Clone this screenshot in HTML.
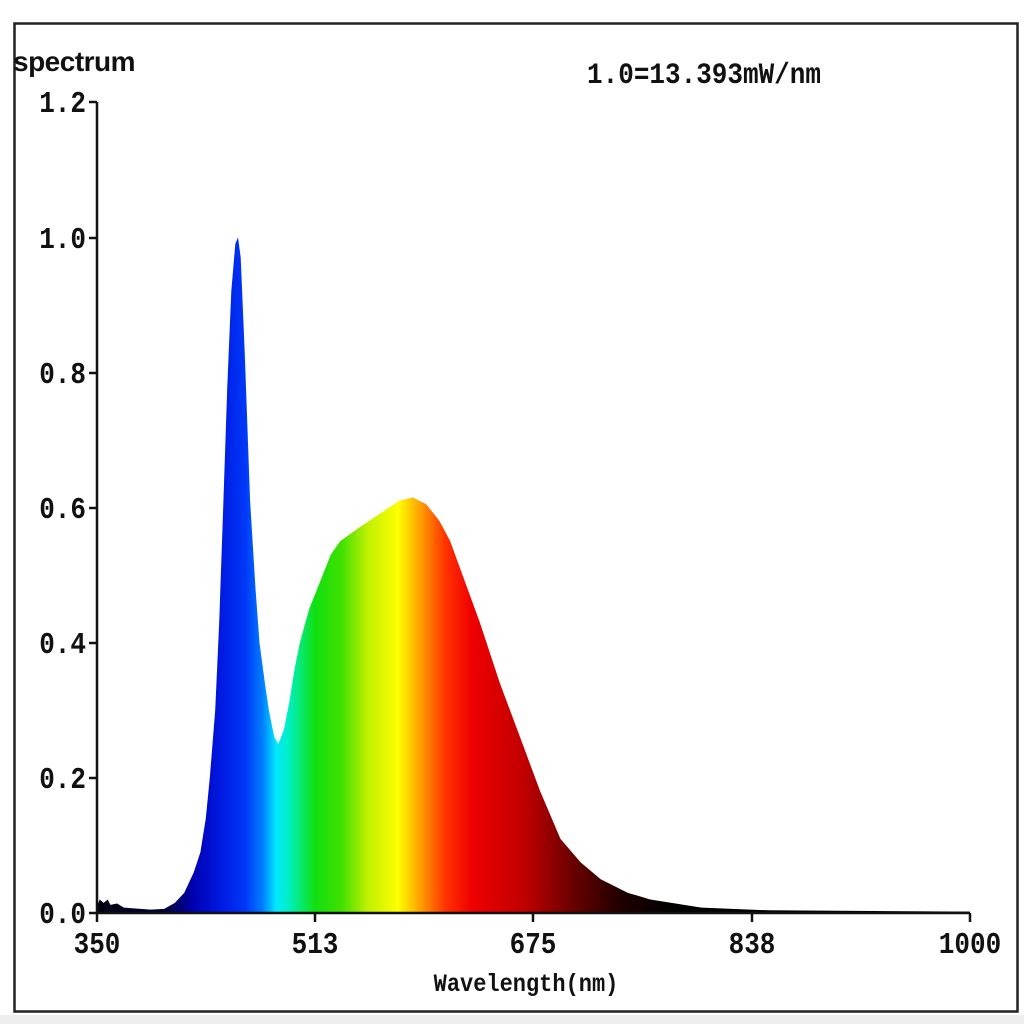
<!DOCTYPE html>
<html><head><meta charset="utf-8"><style>
html,body{margin:0;padding:0;background:#fff;width:1024px;height:1024px;overflow:hidden}
svg text{font-family:"Liberation Mono",monospace;font-weight:bold;fill:#111}
</style></head><body>
<svg width="1024" height="1024" xmlns="http://www.w3.org/2000/svg">
<defs>
<linearGradient id="g" gradientUnits="userSpaceOnUse" x1="97" y1="0" x2="970" y2="0">
<stop offset="0" stop-color="#000010"/>
<stop offset="0.08" stop-color="#000040"/>
<stop offset="0.11" stop-color="#0000b0"/>
<stop offset="0.14" stop-color="#0018e0"/>
<stop offset="0.17" stop-color="#0038f8"/>
<stop offset="0.19" stop-color="#0080ff"/>
<stop offset="0.205" stop-color="#00e8ff"/>
<stop offset="0.22" stop-color="#00f0c0"/>
<stop offset="0.25" stop-color="#10e010"/>
<stop offset="0.28" stop-color="#40e000"/>
<stop offset="0.31" stop-color="#c0f000"/>
<stop offset="0.345" stop-color="#ffff00"/>
<stop offset="0.37" stop-color="#ffa000"/>
<stop offset="0.40" stop-color="#ff3000"/>
<stop offset="0.43" stop-color="#ee0000"/>
<stop offset="0.49" stop-color="#c00000"/>
<stop offset="0.54" stop-color="#700000"/>
<stop offset="0.60" stop-color="#200000"/>
<stop offset="0.66" stop-color="#000000"/>
<stop offset="1" stop-color="#000000"/>
</linearGradient>
</defs>
<rect x="0" y="1015" width="1024" height="9" fill="#eee"/>
<rect x="14.5" y="23.5" width="1003" height="988" fill="none" stroke="#222" stroke-width="2.5"/>
<path id="spec" fill="url(#g)" stroke="none" d=""/>
<g stroke="#111" stroke-width="2.5" fill="none">
<line x1="97" y1="102" x2="97" y2="914"/>
<line x1="96" y1="913" x2="970" y2="913"/>
<line x1="89" y1="102" x2="97" y2="102"/>
<line x1="89" y1="238" x2="97" y2="238"/>
<line x1="89" y1="373" x2="97" y2="373"/>
<line x1="89" y1="508" x2="97" y2="508"/>
<line x1="89" y1="643" x2="97" y2="643"/>
<line x1="89" y1="778" x2="97" y2="778"/>
<line x1="89" y1="913" x2="97" y2="913"/>
<line x1="97" y1="913" x2="97" y2="922"/>
<line x1="315" y1="913" x2="315" y2="922"/>
<line x1="533" y1="913" x2="533" y2="922"/>
<line x1="752" y1="913" x2="752" y2="922"/>
<line x1="970" y1="913" x2="970" y2="922"/>
</g>
<g font-size="26" text-anchor="end">
<text x="86" y="112" transform="translate(0,112) scale(1,1.18) translate(0,-112)">1.2</text>
<text x="86" y="248" transform="translate(0,248) scale(1,1.18) translate(0,-248)">1.0</text>
<text x="86" y="383" transform="translate(0,383) scale(1,1.18) translate(0,-383)">0.8</text>
<text x="86" y="518" transform="translate(0,518) scale(1,1.18) translate(0,-518)">0.6</text>
<text x="86" y="653" transform="translate(0,653) scale(1,1.18) translate(0,-653)">0.4</text>
<text x="86" y="788" transform="translate(0,788) scale(1,1.18) translate(0,-788)">0.2</text>
<text x="86" y="923" transform="translate(0,923) scale(1,1.18) translate(0,-923)">0.0</text>
</g>
<g font-size="26" text-anchor="middle">
<text x="97" y="953" transform="translate(0,953) scale(1,1.18) translate(0,-953)">350</text>
<text x="315" y="953" transform="translate(0,953) scale(1,1.18) translate(0,-953)">513</text>
<text x="533" y="953" transform="translate(0,953) scale(1,1.18) translate(0,-953)">675</text>
<text x="752" y="953" transform="translate(0,953) scale(1,1.18) translate(0,-953)">838</text>
<text x="970" y="953" transform="translate(0,953) scale(1,1.18) translate(0,-953)">1000</text>
</g>
<text x="526" y="991" font-size="22" text-anchor="middle" transform="translate(0,991) scale(1,1.15) translate(0,-991)">Wavelength(nm)</text>
<text x="704" y="83" font-size="26" text-anchor="middle" transform="translate(0,83) scale(1,1.15) translate(0,-83)">1.0=13.393mW/nm</text>
<text x="13" y="71" font-size="28" style="font-family:'Liberation Sans',sans-serif;letter-spacing:-0.5px">spectrum</text>
</svg>
<script>
var d=[[350,0.01],[352,0.02],[355,0.015],[358,0.02],[360,0.012],[365,0.014],[370,0.008],[390,0.005],[400,0.006],[408,0.015],[415,0.03],[422,0.06],[427,0.09],[431,0.14],[434,0.2],[438,0.3],[441,0.43],[444,0.6],[447,0.78],[450,0.92],[453,0.99],[455,1.0],[457,0.97],[460,0.83],[464,0.61],[468,0.48],[471,0.4],[475,0.34],[478,0.3],[482,0.26],[485,0.25],[489,0.27],[493,0.31],[497,0.36],[501,0.40],[508,0.45],[516,0.49],[524,0.53],[531,0.55],[545,0.57],[560,0.59],[575,0.61],[585,0.615],[595,0.605],[605,0.58],[613,0.55],[624,0.49],[635,0.43],[650,0.34],[665,0.26],[680,0.18],[695,0.11],[710,0.075],[725,0.05],[745,0.03],[762,0.02],[800,0.008],[850,0.004],[1000,0.002]];
function X(w){return 97+(w-350)*873/650}function Y(v){return 913-v*675.8}
var s="M97,913";d.forEach(function(p){s+=" L"+X(p[0]).toFixed(1)+","+Y(p[1]).toFixed(1)});s+=" L970,913 Z";
document.getElementById("spec").setAttribute("d",s);
</script>
</body></html>
